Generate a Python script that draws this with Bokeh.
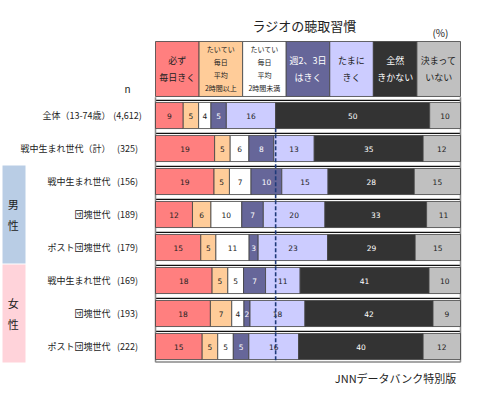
from bokeh.plotting import figure
from bokeh.models import Range1d, ColumnDataSource
from bokeh.core.properties import value
from bokeh.embed import file_html
from bokeh.resources import INLINE

title = "ラジオの聴取習慣"
source_note = "JNNデータバンク特別版"

categories = ["必ず\n毎日きく", "たいてい\n毎日\n平均\n2時間以上", "たいてい\n毎日\n平均\n2時間未満",
              "週2、3日\nはきく", "たまに\nきく", "全然\nきかない", "決まって\nいない"]
cat_colors = ["#ff7f7f", "#ffcc99", "#ffffff", "#666699", "#ccccff", "#333333", "#c0c0c0"]
cat_text_colors = ["#222222", "#222222", "#222222", "#ffffff", "#222222", "#ffffff", "#222222"]

row_labels = ["全体（13-74歳）", "戦中生まれ世代（計）", "戦中生まれ世代", "団塊世代", "ポスト団塊世代",
              "戦中生まれ世代", "団塊世代", "ポスト団塊世代"]
row_n = ["(4,612)", "(325)", "(156)", "(189)", "(179)", "(169)", "(193)", "(222)"]

hissu = [9, 19, 19, 12, 15, 18, 18, 15]
taitei_over2 = [5, 5, 5, 6, 5, 5, 7, 5]
taitei_under2 = [4, 6, 7, 10, 11, 5, 4, 5]
shu23 = [5, 8, 10, 7, 3, 7, 2, 5]
tamani = [16, 13, 15, 20, 23, 11, 18, 16]
zenzen = [50, 35, 28, 33, 29, 41, 42, 40]
kimatte = [10, 12, 15, 11, 15, 10, 9, 12]
series = [hissu, taitei_over2, taitei_under2, shu23, tamani, zenzen, kimatte]

groups = ["男\n性", "女\n性"]
group_rows = [(2, 4), (5, 7)]
group_colors = ["#b9cde5", "#ffd3da"]

FONT = value("Noto Sans CJK JP")
W, H = 490, 388
PX_X = 3.05   # pixels per percent
PX_Y = 33.0   # pixels per row
x0 = -155 / PX_X
y0 = -115 / PX_Y
p = figure(width=W, height=H, output_backend="svg", toolbar_location=None,
           x_range=Range1d(x0, x0 + W / PX_X), y_range=Range1d(y0 + H / PX_Y, y0),
           x_axis_location=None, y_axis_location=None, min_border=0)
p.xgrid.visible = False
p.ygrid.visible = False
p.outline_line_color = None

nrows = len(hissu)
rows = list(range(nrows))

# stacked segments normalized to 100%
seg = dict(y=[], left=[], right=[], color=[], tx=[], txt=[], tc=[])
for r in rows:
    tot = sum(s[r] for s in series)
    acc = 0.0
    for k, s in enumerate(series):
        l = acc / tot * 100
        acc += s[r]
        rr = acc / tot * 100
        seg["y"].append(r)
        seg["left"].append(l)
        seg["right"].append(rr)
        seg["color"].append(cat_colors[k])
        seg["tx"].append((l + rr) / 2)
        seg["txt"].append(str(s[r]))
        seg["tc"].append(cat_text_colors[k])
src = ColumnDataSource(seg)

# row separator lines (black) above each bar
for r in rows:
    p.line([0, 100], [r - 0.46, r - 0.46], line_color="#111111", line_width=1.2)
# frame
p.line([0, 0], [-0.55, 7.48], line_color="#888888", line_width=1.5)
p.line([100, 100], [-0.55, 7.48], line_color="#888888", line_width=1.5)
p.line([0, 100], [7.47, 7.47], line_color="#888888", line_width=1.5)

p.hbar(y="y", left="left", right="right", height=0.79, fill_color="color",
       line_color="#404040", line_width=0.8, source=src)
p.text(x="tx", y="y", text="txt", text_color="tc", text_align="center", text_baseline="middle",
       text_font=value("DejaVu Sans"), text_font_size="7.5px", source=src)

# header boxes
hdr_l = [k * 100 / 7 for k in range(7)]
hdr_r = [(k + 1) * 100 / 7 for k in range(7)]
p.quad(left=hdr_l, right=hdr_r, top=[-2.242] * 7, bottom=[-0.576] * 7,
       fill_color=cat_colors, line_color="#404040", line_width=0.8)
hx = [(a + b) / 2 for a, b in zip(hdr_l, hdr_r)]
big = [0, 3, 4, 5, 6]
p.text(x=[hx[k] for k in big], y=[-1.41] * len(big), text=[categories[k] for k in big],
       text_color=[cat_text_colors[k] for k in big], text_align="center", text_baseline="middle",
       text_font=FONT, text_font_size="9px", text_line_height=1.25)
small = [1, 2]
p.text(x=[hx[k] for k in small], y=[-1.41] * len(small), text=[categories[k] for k in small],
       text_color=[cat_text_colors[k] for k in small], text_align="center", text_baseline="middle",
       text_font=FONT, text_font_size="7px", text_line_height=1.3)

# title, unit, n
p.text(x=[48.85], y=[-2.73], text=[title], text_align="center", text_baseline="middle",
       text_font=FONT, text_font_size="13px", text_color="#222222")
p.text(x=[93.4], y=[-2.51], text=["(%)"], text_align="center", text_baseline="middle",
       text_font=FONT, text_font_size="10px", text_color="#222222")
p.text(x=[-9.2], y=[-0.82], text=["n"], text_align="center", text_baseline="middle",
       text_font=FONT, text_font_size="10px", text_color="#222222")

# row labels
p.text(x=[-14.75] * nrows, y=rows, text=row_labels, text_align="right", text_baseline="middle",
       text_font=FONT, text_font_size="9px", text_color="#222222")
p.text(x=[-9.2] * nrows, y=rows, text=row_n, text_align="center", text_baseline="middle",
       text_font=FONT, text_font_size="9px", text_color="#222222")

# group boxes
for g, (a, b), c in zip(groups, group_rows, group_colors):
    p.quad(left=[-50.16], right=[-42.62], top=[a - 0.485], bottom=[b + 0.485],
           fill_color=c, line_color=None)
    p.text(x=[-46.6], y=[(a + b) / 2], text=[g], text_align="center", text_baseline="middle",
           text_font=FONT, text_font_size="11px", text_color="#222222", text_line_height=1.3)

# dashed reference line at 全体 cumulative (first five categories)
tot0 = sum(s[0] for s in series)
ref_x = sum(s[0] for s in series[:5]) / tot0 * 100
p.line([ref_x, ref_x], [0.39, 7.48], line_color="#1f3a7a", line_width=1.6, line_dash="4 2")

# source note
p.text(x=[98.4], y=[7.94], text=[source_note], text_align="right", text_baseline="middle",
       text_font=FONT, text_font_size="11px", text_color="#222222")

open("out.html", "w").write(file_html(p, INLINE))
